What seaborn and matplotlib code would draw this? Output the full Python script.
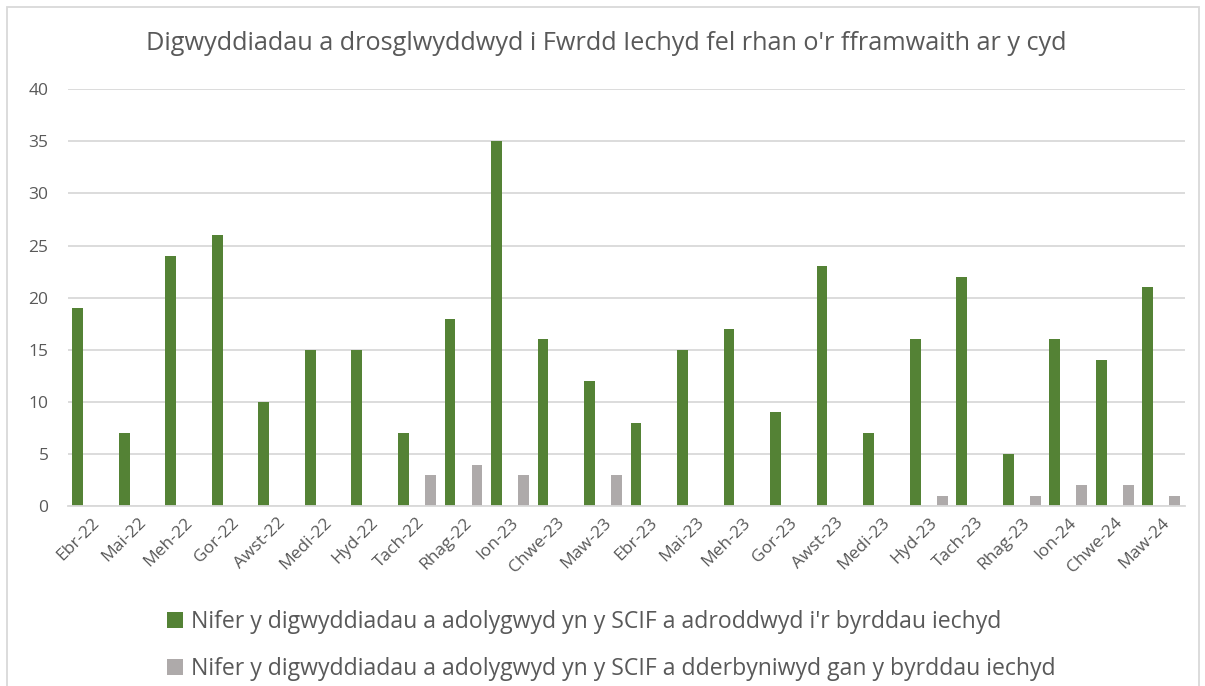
import matplotlib
matplotlib.use("Agg")
import matplotlib.pyplot as plt
import seaborn as sns
import pandas as pd
from matplotlib.patches import Rectangle

months = ["Ebr-22", "Mai-22", "Meh-22", "Gor-22", "Awst-22", "Medi-22", "Hyd-22", "Tach-22",
          "Rhag-22", "Ion-23", "Chwe-23", "Maw-23", "Ebr-23", "Mai-23", "Meh-23", "Gor-23",
          "Awst-23", "Medi-23", "Hyd-23", "Tach-23", "Rhag-23", "Ion-24", "Chwe-24", "Maw-24"]
reported = [19, 7, 24, 26, 10, 15, 15, 7, 18, 35, 16, 12, 8, 15, 17, 9, 23, 7, 16, 22, 5, 16, 14, 21]
received = [0, 0, 0, 0, 0, 0, 0, 3, 4, 3, 0, 3, 0, 0, 0, 0, 0, 0, 1, 0, 1, 2, 2, 1]
series_names = ["Nifer y digwyddiadau a adolygwyd yn y SCIF a adroddwyd i'r byrddau iechyd",
                "Nifer y digwyddiadau a adolygwyd yn y SCIF a dderbyniwyd gan y byrddau iechyd"]
title = "Digwyddiadau a drosglwyddwyd i Fwrdd Iechyd fel rhan o'r fframwaith ar y cyd"

df = pd.DataFrame({
    "month": months * 2,
    "value": reported + received,
    "series": [series_names[0]] * len(months) + [series_names[1]] * len(months),
})

sns.set_theme(style="white")
plt.rcParams["font.family"] = ["Open Sans", "DejaVu Sans"]
text_col = "#595959"

fig = plt.figure(figsize=(12.05, 6.86), dpi=100)
ax = fig.add_axes([0.0564, 0.262, 0.9266, 0.608])

palette = {series_names[0]: "#548235", series_names[1]: "#AEAAAA"}
sns.barplot(data=df, x="month", y="value", hue="series", order=months,
            hue_order=series_names, palette=palette, width=1.16, gap=0.6,
            saturation=1, ax=ax, errorbar=None, legend=True, linewidth=0)

ax.set_xlim(-0.5, len(months) - 0.5)
ax.set_ylim(0, 40)
ax.set_yticks(range(0, 41, 5))
ax.yaxis.grid(True, color="#D9D9D9", linewidth=1.3)
ax.set_axisbelow(True)
for s in ["top", "right", "left"]:
    ax.spines[s].set_visible(False)
ax.spines["bottom"].set_color("#D9D9D9")
ax.spines["bottom"].set_linewidth(1.3)
ax.set_xlabel("")
ax.set_ylabel("")
ax.tick_params(axis="y", length=0, pad=14, labelsize=12.5, labelcolor=text_col)
ax.tick_params(axis="x", length=0, pad=6, labelsize=12.5, labelcolor=text_col)
plt.setp(ax.get_xticklabels(), rotation=45, ha="right", rotation_mode="anchor")

fig.suptitle(title, x=0.503, y=0.955, fontsize=18.2, color=text_col)

handles, labels = ax.get_legend_handles_labels()
ax.legend_.remove()
fig.legend(handles, labels, loc="upper left", bbox_to_anchor=(0.131, 0.124),
           frameon=False, fontsize=16.6, labelcolor=text_col, handlelength=0.68,
           handleheight=0.68, handletextpad=0.35, labelspacing=0.98,
           borderaxespad=0)

fig.patches.append(Rectangle((0.006, -0.05), 0.989, 1.04, transform=fig.transFigure,
                             fill=False, edgecolor="#D9D9D9", linewidth=1.3))

fig.savefig("out.png", dpi=100)
